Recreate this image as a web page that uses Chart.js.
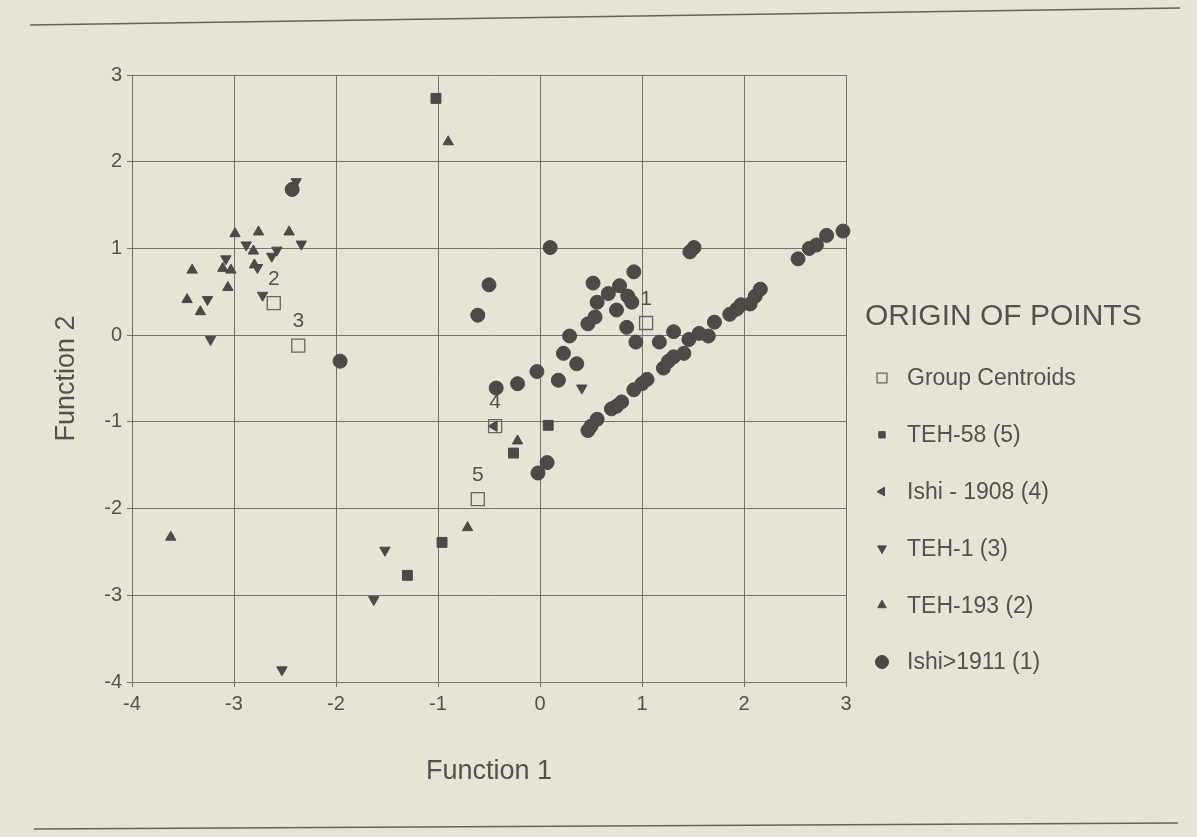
<!DOCTYPE html>
<html>
<head>
<meta charset="utf-8">
<script src="https://cdn.jsdelivr.net/npm/chart.js@4.4.1/dist/chart.umd.min.js"></script>
<style>
  html, body { margin: 0; padding: 0; background: #e7e3d6; }
  #wrap { position: relative; width: 1197px; height: 837px; }
</style>
</head>
<body>
<div id="wrap"><canvas id="chart" width="1197" height="837"></canvas></div>
<script>
// values: [function 1, function 2]
const groupCentroids = [[1.04, 0.14], [-2.61, 0.37], [-2.37, -0.12], [-0.44, -1.05], [-0.61, -1.89]];
const centroidLabels = ['1', '2', '3', '4', '5'];

const teh58 = [[-1.02, 2.73], [-0.96, -2.39], [-1.30, -2.77], [-0.26, -1.36], [0.08, -1.04]];

const ishi1908 = [[-0.45, -1.05]];

const teh1 = [
  [-2.88, 1.04], [-2.34, 1.05], [-2.58, 0.98], [-2.63, 0.91], [-3.08, 0.88], [-2.77, 0.78],
  [-3.26, 0.41], [-2.72, 0.46], [-3.23, -0.05], [-2.39, 1.77], [-1.52, -2.48], [-1.63, -3.05],
  [-2.53, -3.86], [0.41, -0.61]
];

const teh193 = [
  [-2.99, 1.17], [-2.76, 1.19], [-2.46, 1.19], [-2.81, 0.97], [-3.41, 0.75], [-3.11, 0.77],
  [-3.03, 0.75], [-3.06, 0.55], [-3.46, 0.41], [-3.33, 0.27], [-2.80, 0.81], [-3.62, -2.33],
  [-0.71, -2.22], [-0.22, -1.22], [-0.90, 2.23]
];

const ishi1911 = [
  // scattered cluster
  [0.10, 1.01], [-0.50, 0.58], [-0.61, 0.23], [-1.96, -0.30], [-0.43, -0.61], [-0.22, -0.56],
  [-0.03, -0.42], [0.18, -0.52], [0.23, -0.21], [0.36, -0.33], [0.29, -0.01], [0.07, -1.47],
  [-0.02, -1.59], [0.92, 0.73], [0.52, 0.60], [0.78, 0.57], [0.67, 0.48], [0.86, 0.45],
  [0.90, 0.38], [0.56, 0.38], [0.75, 0.29], [0.54, 0.21], [0.47, 0.13], [0.85, 0.09],
  [0.94, -0.08], [1.31, 0.04], [1.17, -0.08], [1.47, 0.96], [1.51, 1.01], [-2.43, 1.68],
  // the diagonal run
  [0.47, -1.10], [0.50, -1.05], [0.56, -0.97], [0.70, -0.85], [0.75, -0.82], [0.80, -0.77],
  [0.92, -0.63], [1.00, -0.56], [1.05, -0.51], [1.21, -0.38], [1.26, -0.30], [1.31, -0.25],
  [1.41, -0.21], [1.46, -0.05], [1.56, 0.02], [1.65, -0.01], [1.71, 0.15], [1.86, 0.24],
  [1.93, 0.30], [1.97, 0.35], [2.06, 0.36], [2.11, 0.45], [2.16, 0.53], [2.53, 0.88],
  [2.64, 1.00], [2.71, 1.04], [2.81, 1.15], [2.97, 1.20]
];

const seriesNames = ['Group Centroids', 'TEH-58 (5)', 'Ishi - 1908 (4)', 'TEH-1 (3)', 'TEH-193 (2)', 'Ishi>1911 (1)'];
const legendTitle = 'ORIGIN OF POINTS';
const axisTicks = [-4, -3, -2, -1, 0, 1, 2, 3];

const FONT = '"Liberation Sans", Arial, Helvetica, sans-serif';
const ink = '#4e4946';
const textColor = '#56514e';
const gridColor = '#77726e';
const paper = '#e7e3d6';

const toXY = arr => arr.map(p => ({ x: p[0], y: p[1] }));

function series(label, data, style, radius, rotation, fill) {
  return {
    label: label,
    data: toXY(data),
    pointStyle: style,
    pointRadius: radius,
    pointRotation: rotation,
    backgroundColor: fill,
    borderColor: style === 'rect' && fill === 'rgba(0,0,0,0)' ? '#6a6562' : ink,
    borderWidth: style === 'rect' && fill === 'rgba(0,0,0,0)' ? 1.3 : 1,
    clip: false
  };
}

const datasets = [
  series(seriesNames[0], groupCentroids, 'rect', 9.2, 0, 'rgba(0,0,0,0)'),
  series(seriesNames[1], teh58, 'rect', 7, 0, ink),
  series(seriesNames[2], ishi1908, 'triangle', 6, -90, ink),
  series(seriesNames[3], teh1, 'triangle', 6, 180, ink),
  series(seriesNames[4], teh193, 'triangle', 6, 0, ink),
  series(seriesNames[5], ishi1911, 'circle', 7, 0, ink)
];
const legendRadius = [7, 4.5, 5, 5, 5, 6.5];

// paper background and the two rules of the scanned page
const pagePlugin = {
  id: 'page',
  beforeDraw(chart) {
    const ctx = chart.ctx;
    ctx.save();
    ctx.fillStyle = paper;
    ctx.fillRect(0, 0, chart.width, chart.height);
    ctx.strokeStyle = '#66615d';
    ctx.lineWidth = 1.5;
    ctx.beginPath(); ctx.moveTo(30, 25); ctx.lineTo(1180, 8); ctx.stroke();
    ctx.beginPath(); ctx.moveTo(34, 829); ctx.lineTo(1178, 823); ctx.stroke();
    ctx.restore();
  }
};

// number above each group centroid
const centroidNumbers = {
  id: 'centroidNumbers',
  afterDatasetsDraw(chart) {
    const { ctx, scales: { x, y } } = chart;
    ctx.save();
    ctx.font = '21px ' + FONT;
    ctx.fillStyle = textColor;
    ctx.textAlign = 'center';
    ctx.textBaseline = 'middle';
    groupCentroids.forEach((p, i) => {
      ctx.fillText(centroidLabels[i], x.getPixelForValue(p[0]), y.getPixelForValue(p[1]) - 24);
    });
    ctx.restore();
  }
};

// legend block on the right
const originLegend = {
  id: 'originLegend',
  afterDraw(chart) {
    const ctx = chart.ctx;
    const left = chart.chartArea.right + 19;
    ctx.save();
    ctx.textAlign = 'left';
    ctx.textBaseline = 'middle';
    ctx.fillStyle = textColor;
    ctx.font = '30px ' + FONT;
    ctx.fillText(legendTitle, left, 317);
    chart.data.datasets.forEach((ds, i) => {
      const cy = 378 + i * 56.8;
      ctx.fillStyle = ds.backgroundColor;
      ctx.strokeStyle = ds.borderColor;
      ctx.lineWidth = ds.borderWidth;
      Chart.helpers.drawPoint(ctx, {
        pointStyle: ds.pointStyle,
        rotation: ds.pointRotation,
        radius: legendRadius[i],
        borderWidth: ds.borderWidth
      }, left + 17, cy);
      ctx.fillStyle = textColor;
      ctx.font = '23px ' + FONT;
      ctx.fillText(ds.label, left + 42, cy + 1);
    });
    ctx.restore();
  }
};

function axis(title, min, max) {
  return {
    type: 'linear',
    min: min,
    max: max,
    afterBuildTicks: s => { s.ticks = axisTicks.map(v => ({ value: v })); },
    ticks: { color: textColor, font: { family: FONT, size: 20 }, padding: 5 },
    grid: { color: gridColor, lineWidth: 1, tickLength: 5 },
    border: { color: gridColor, width: 1 },
    title: {
      display: true, text: title, color: textColor,
      font: { family: FONT, size: 27 }, padding: { top: 4, bottom: 4 }
    }
  };
}

const xAxis = axis('Function 1', -4, 3);
xAxis.afterFit = s => { s.height = 110; };
const yAxis = axis('Function 2', -4, 3);
yAxis.afterFit = s => { s.width = 86; };

new Chart(document.getElementById('chart'), {
  type: 'scatter',
  data: { datasets: datasets },
  options: {
    responsive: false,
    devicePixelRatio: 1,
    animation: false,
    events: [],
    layout: { padding: { left: 46, right: 351, top: 75, bottom: 45 } },
    scales: { x: xAxis, y: yAxis },
    plugins: {
      legend: { display: false },
      tooltip: { enabled: false }
    }
  },
  plugins: [pagePlugin, centroidNumbers, originLegend]
});
</script>
</body>
</html>
